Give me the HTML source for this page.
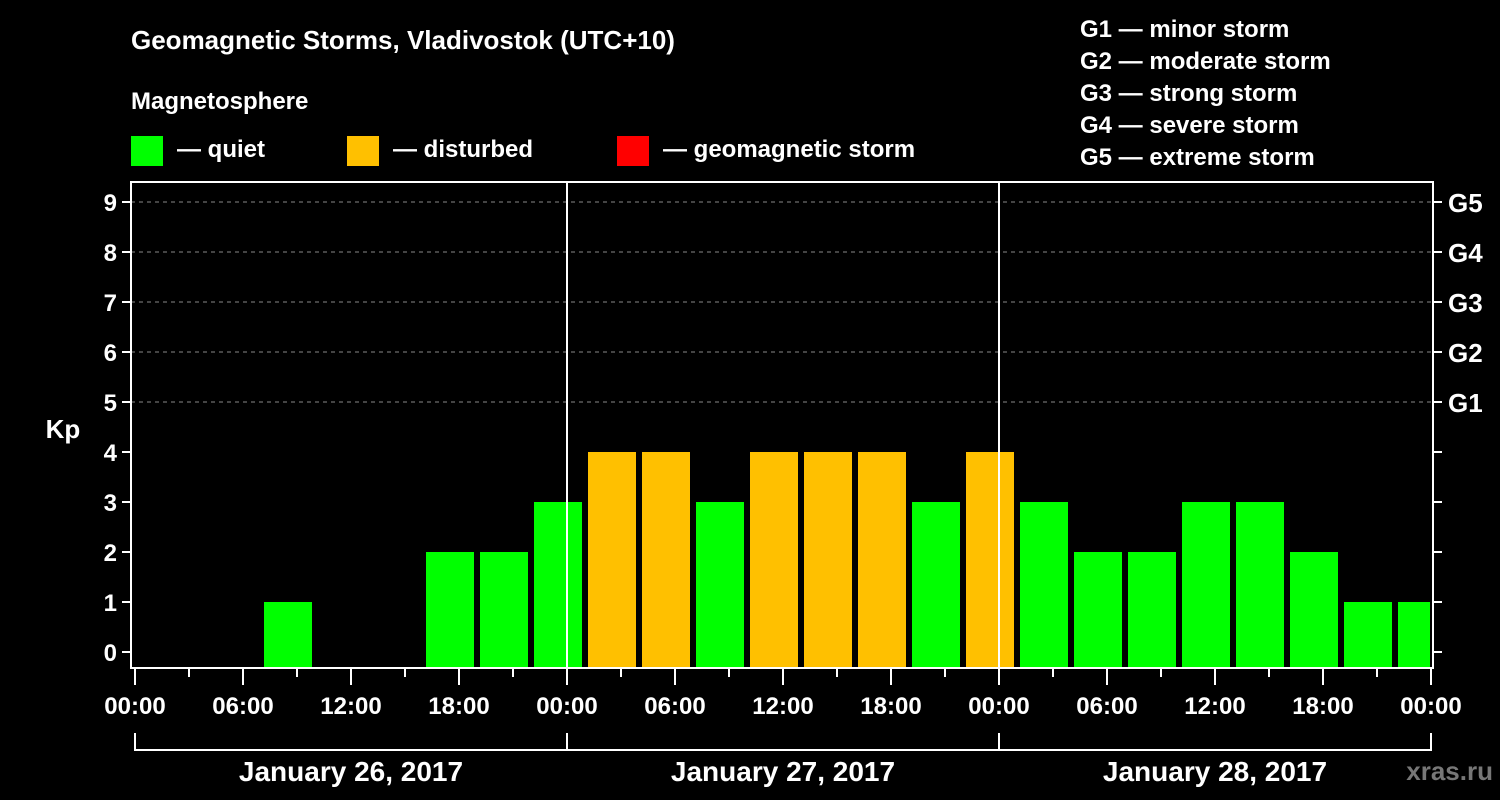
<!DOCTYPE html>
<html><head><meta charset="utf-8"><style>
body{margin:0;background:#000;}
svg{display:block;font-family:"Liberation Sans",Arial,sans-serif;font-weight:bold;}
</style></head><body>
<svg id="c" width="1500" height="800" viewBox="0 0 1500 800">
<text x="131" y="49" fill="#fff" font-size="26">Geomagnetic Storms, Vladivostok (UTC+10)</text>
<text x="131" y="109" fill="#fff" font-size="24">Magnetosphere</text>
<g><rect x="131" y="136" width="32" height="30" fill="#00ff00"/><text x="177" y="157" fill="#fff" font-size="24">— quiet</text></g>
<g><rect x="347" y="136" width="32" height="30" fill="#ffc000"/><text x="393" y="157" fill="#fff" font-size="24">— disturbed</text></g>
<g><rect x="617" y="136" width="32" height="30" fill="#ff0000"/><text x="663" y="157" fill="#fff" font-size="24">— geomagnetic storm</text></g>
<g fill="#fff" font-size="24">
<text x="1080" y="37">G1 — minor storm</text>
<text x="1080" y="69">G2 — moderate storm</text>
<text x="1080" y="101">G3 — strong storm</text>
<text x="1080" y="133">G4 — severe storm</text>
<text x="1080" y="165">G5 — extreme storm</text>
</g>
<text x="63" y="438" fill="#fff" font-size="26" text-anchor="middle">Kp</text>
<text x="1493" y="780" fill="#777" font-size="26" text-anchor="end">xras.ru</text>
<g id="grid"></g><g id="bars"></g><g id="axes"></g>
</svg>
<script>
const kpValues=[0,0,0,1,0,0,2,2,3,4,4,3,4,4,4,3,4,3,2,2,3,3,2,1,1];
const slotStartHours=[-2,1,4,7,10,13,16,19,22,25,28,31,34,37,40,43,46,49,52,55,58,61,64,67,70];
const yTicks=[0,1,2,3,4,5,6,7,8,9];
const gLabels=["G1","G2","G3","G4","G5"];
const gLevels=[5,6,7,8,9];
const xTickLabels=["00:00","06:00","12:00","18:00","00:00","06:00","12:00","18:00","00:00","06:00","12:00","18:00","00:00"];
const dayLabels=["January 26, 2017","January 27, 2017","January 28, 2017"];
const NS="http://www.w3.org/2000/svg";
const L=131,R=1433,T=182,B=668,X0=135,PXH=18;
const x=h=>X0+h*PXH, y=v=>652-v*50;
function mk(t,a,p){const e=document.createElementNS(NS,t);for(const k in a)e.setAttribute(k,a[k]);p.appendChild(e);return e;}
const grid=document.getElementById('grid'),bars=document.getElementById('bars'),axes=document.getElementById('axes');
gLevels.forEach(v=>{const l=mk('line',{x1:L,x2:R,y1:y(v),y2:y(v),stroke:'#888','stroke-dasharray':'4,4','stroke-width':1},grid);

});
kpValues.forEach((v,i)=>{let x1=x(slotStartHours[i])+3,x2=x(slotStartHours[i]+3)-3;x1=Math.max(x1,L+1);x2=Math.min(x2,R-3);if(x2<=x1||v<=0)return;
const c=v>=5?'#ff0000':v>=4?'#ffc000':'#00ff00';
const r=mk('rect',{x:x1,y:y(v),width:x2-x1,height:B-y(v),fill:c},bars);

});
[24,48].forEach(h=>{const l=mk('line',{x1:x(h),x2:x(h),y1:T,y2:B,stroke:'#fff','stroke-width':2},axes);

});
const f=mk('rect',{x:L,y:T,width:R-L,height:B-T,fill:'none',stroke:'#fff','stroke-width':2},axes);


yTicks.forEach(v=>{mk('line',{x1:L-9,x2:L,y1:y(v),y2:y(v),stroke:'#fff','stroke-width':2},axes);mk('line',{x1:R,x2:R+9,y1:y(v),y2:y(v),stroke:'#fff','stroke-width':2},axes);
const t=mk('text',{x:L-14,y:y(v)+9,fill:'#fff','font-size':24,'text-anchor':'end'},axes);t.textContent=v;

});
gLabels.forEach((g,i)=>{const t=mk('text',{x:1448,y:y(gLevels[i])+10,fill:'#fff','font-size':26},axes);t.textContent=g;

});
for(let h=0;h<=72;h+=3){const big=h%6===0;mk('line',{x1:x(h),x2:x(h),y1:B,y2:B+(big?17:9),stroke:'#fff','stroke-width':2},axes);}
xTickLabels.forEach((s,i)=>{const t=mk('text',{x:x(i*6),y:714,fill:'#fff','font-size':24,'text-anchor':'middle'},axes);t.textContent=s;

});
dayLabels.forEach((s,i)=>{const a=x(i*24),b=x(i*24+24);
mk('path',{d:`M${a} 733V750H${b}V733`,fill:'none',stroke:'#fff','stroke-width':2},axes);
const t=mk('text',{x:(a+b)/2,y:781,fill:'#fff','font-size':28,'text-anchor':'middle'},axes);t.textContent=s;

});
</script>
</body></html>
